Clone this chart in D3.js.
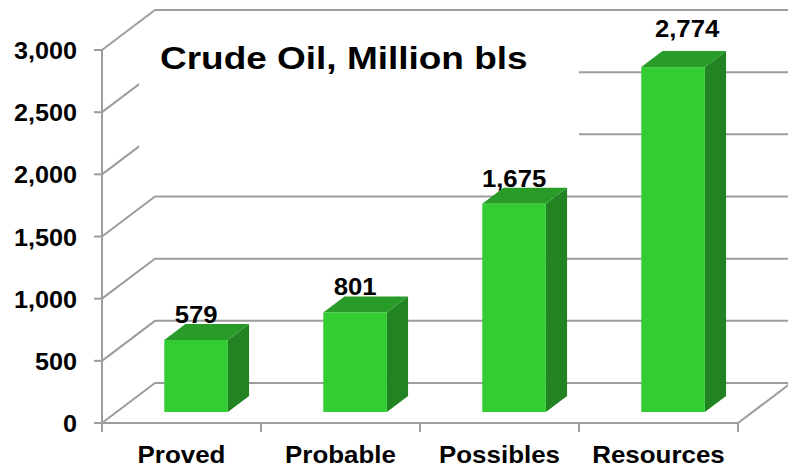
<!DOCTYPE html>
<html><head><meta charset="utf-8">
<script src="https://cdn.jsdelivr.net/npm/d3@7"></script>
<style>html,body{margin:0;padding:0;background:#fff;}svg{display:block;}</style>
</head><body>
<svg id="chart" width="788" height="468"></svg>
<script>
const categories = ["Proved", "Probable", "Possibles", "Resources"];
const values = [579, 801, 1675, 2774];
const tickValues = [0, 500, 1000, 1500, 2000, 2500, 3000];
const titleText = "Crude Oil, Million bls";

(function() {
const svg = d3.select("#chart");
const FONT = "'Liberation Sans', Arial, sans-serif";
const plotLeft = 102, plotRight = 738, plotBottom = 423, plotTop = 50;
const depth = {dx: 53, dy: -40};
const grid = "#9d9d9d";

const y = d3.scaleLinear().domain([0, 3000]).range([plotBottom, plotTop]);
const x = d3.scaleBand().domain(categories).range([plotLeft, plotRight]).paddingInner(0).paddingOuter(0);

function stretch(sel, k) {
  sel.each(function() {
    const w = this.getComputedTextLength();
    d3.select(this).attr("textLength", w * k).attr("lengthAdjust", "spacingAndGlyphs");
  });
}

// grid: left wall diagonals + back wall lines
const g = svg.append("g").attr("stroke", grid).attr("stroke-width", 2).attr("fill", "none");
tickValues.forEach(t => {
  const yf = y(t);
  g.append("path").attr("d", `M${plotLeft},${yf}L${plotLeft + depth.dx},${yf + depth.dy}L${800},${yf + depth.dy}`);
  g.append("line").attr("x1", plotLeft - 8).attr("x2", plotLeft).attr("y1", yf).attr("y2", yf);
});
// front axis + floor
g.append("line").attr("x1", plotLeft).attr("x2", plotLeft).attr("y1", plotTop).attr("y2", plotBottom + 9);
g.append("path").attr("d", `M${plotLeft},${plotBottom}L${plotRight},${plotBottom}L${plotRight + depth.dx},${plotBottom + depth.dy}`);
const bounds = categories.map(c => x(c)).concat([plotRight]);
bounds.forEach(bx => {
  g.append("line").attr("x1", bx).attr("x2", bx).attr("y1", plotBottom).attr("y2", plotBottom + 9);
});

// title box (white, covers grid)
svg.append("rect").attr("x", 139).attr("y", 25).attr("width", 440).attr("height", 125).attr("fill", "#fff");
const title = svg.append("text").attr("x", 160).attr("y", 69)
  .attr("font-family", FONT).attr("font-weight", "bold").attr("font-size", 32)
  .attr("fill", "#000").text(titleText);
stretch(title, 1.155);

// bars
const f0 = 0.275, fd = 0.4;
const bw = x.bandwidth() * 0.4;
const bars = svg.append("g");
categories.forEach((c, i) => {
  const v = values[i];
  const x0 = x(c) + x.bandwidth() / 2 - bw / 2 + depth.dx * f0;
  const x1 = x0 + bw;
  const yb = y(0) + depth.dy * f0;
  const yt = y(v) + depth.dy * f0;
  const ddx = depth.dx * fd, ddy = depth.dy * fd;
  bars.append("path").attr("fill", "#228322")
    .attr("d", `M${x1},${yb}L${x1 + ddx},${yb + ddy}L${x1 + ddx},${yt + ddy}L${x1},${yt}Z`);
  bars.append("path").attr("fill", "#289b28")
    .attr("d", `M${x0},${yt}L${x1},${yt}L${x1 + ddx},${yt + ddy}L${x0 + ddx},${yt + ddy}Z`);
  bars.append("rect").attr("fill", "#33cc33").attr("x", x0).attr("y", yt).attr("width", bw).attr("height", yb - yt);
  const nudge = i === categories.length - 1 ? {dx: 14, dy: -13} : {dx: 0, dy: 0};
  const lab = svg.append("text").attr("x", x0 + bw / 2 + nudge.dx).attr("y", yt + ddy - 1 + nudge.dy)
    .attr("text-anchor", "middle").attr("font-family", FONT).attr("font-weight", "bold")
    .attr("font-size", 24).attr("fill", "#000").text(d3.format(",")(v));
  stretch(lab, 1.07);
});

// y tick labels
tickValues.forEach(t => {
  const tl = svg.append("text").attr("x", 77).attr("y", y(t) + 9)
    .attr("text-anchor", "end").attr("font-family", FONT).attr("font-weight", "bold")
    .attr("font-size", 24).attr("fill", "#000").text(d3.format(",")(t));
  stretch(tl, 1.05);
});

// category labels
categories.forEach(c => {
  const cl = svg.append("text").attr("x", x(c) + x.bandwidth() / 2).attr("y", 463)
    .attr("text-anchor", "middle").attr("font-family", FONT).attr("font-weight", "bold")
    .attr("font-size", 24).attr("fill", "#000").text(c);
  stretch(cl, 1.08);
});
})();
</script>
</body></html>
